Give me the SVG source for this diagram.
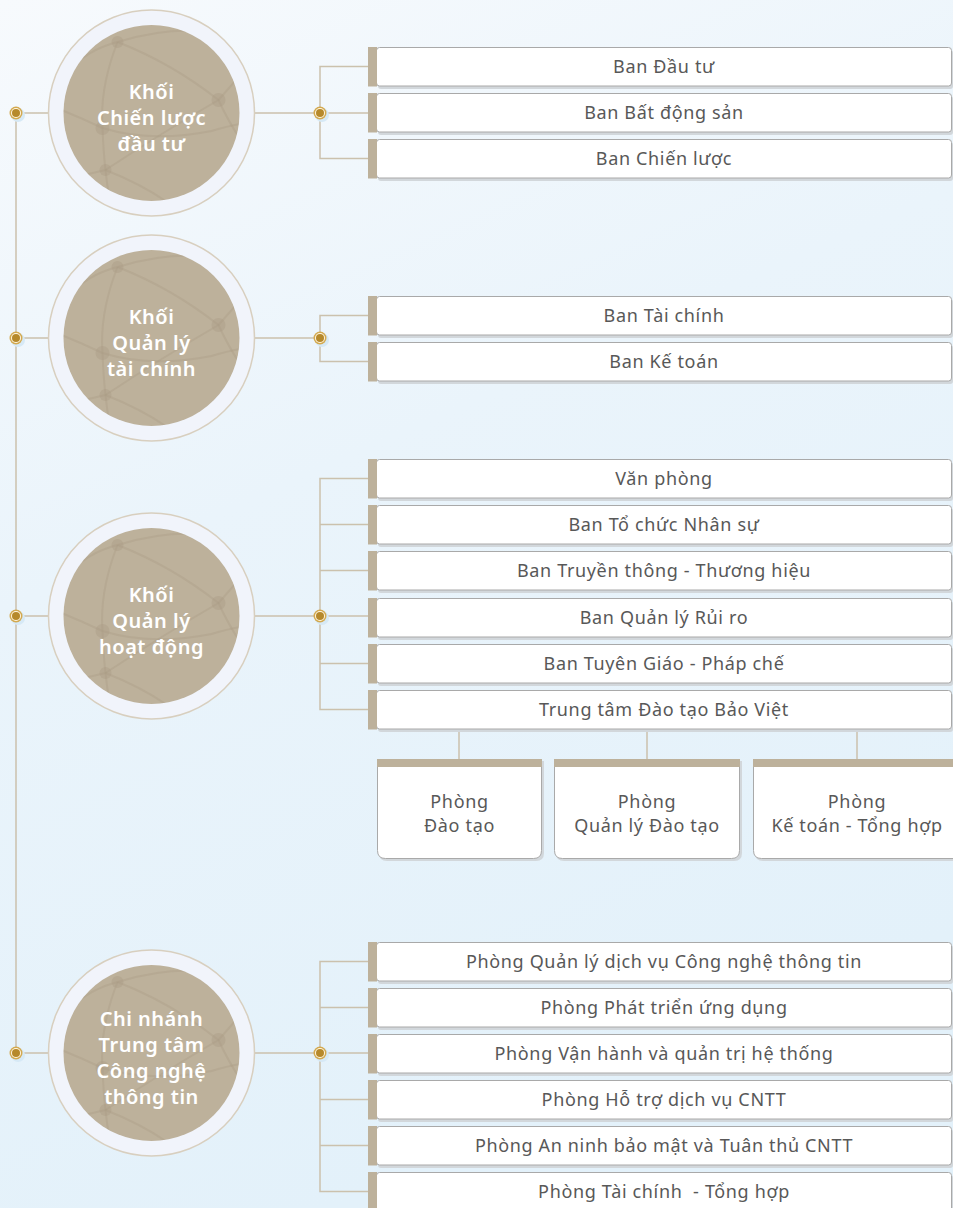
<svg xmlns="http://www.w3.org/2000/svg" xmlns:xlink="http://www.w3.org/1999/xlink" width="953" height="1208" viewBox="0 0 953 1208">
  <defs>
    <linearGradient id="bg" x1="0" y1="0" x2="0.35" y2="1">
      <stop offset="0" stop-color="#f7fafd"/>
      <stop offset="0.45" stop-color="#eaf4fb"/>
      <stop offset="1" stop-color="#e3f1fa"/>
    </linearGradient>
    <clipPath id="innerClip"><circle cx="0" cy="0" r="88"/></clipPath>
    <!-- globe / network texture drawn inside each unit disc -->
    <g id="globe" clip-path="url(#innerClip)" fill="none" stroke="#a99c84" stroke-width="2" stroke-opacity="0.35">
      <path d="M-95,-30 Q-70,-62 -34,-71 Q20,-88 70,-80"/>
      <path d="M-34,-71 Q-52,-25 -49,15 Q-48,40 -46,57 Q-44,80 -38,100"/>
      <path d="M-34,-71 Q20,-50 67,-13"/>
      <path d="M67,-13 L95,-45"/>
      <path d="M67,-13 Q80,15 92,30"/>
      <path d="M-95,-5 Q-70,5 -49,15 Q0,30 60,18 Q80,12 95,10"/>
      <path d="M-46,57 Q10,20 67,-13"/>
      <path d="M-95,70 Q-70,62 -46,57"/>
      <path d="M-46,57 Q0,75 30,100"/>
      <g fill="#a99c84" fill-opacity="0.4" stroke="none">
        <circle cx="-34" cy="-71" r="6"/>
        <circle cx="67" cy="-13" r="7"/>
        <circle cx="-49" cy="15" r="7"/>
        <circle cx="-46" cy="57" r="6"/>
      </g>
    </g>
    <g id="dot">
      <circle cx="2" cy="2" r="7" fill="#d6e9f6"/>
      <circle cx="0" cy="0" r="6.5" fill="#d3a94f"/>
      <circle cx="0" cy="0" r="5" fill="#fff6e2"/>
      <circle cx="0" cy="0" r="4" fill="#b6892b"/>
    </g>
    <style>
      .ln { fill: none; stroke: #cbc1ad; stroke-width: 1.5; }
      .ring { fill: #f1f4fb; stroke: #d8cfbf; stroke-width: 1.5; }
      .disc { fill: #bdb19b; }
      .ctext { font-family: "Noto Sans", "Inter", sans-serif; font-size: 20px; font-weight: 600; letter-spacing: 0.5px; fill: #ffffff; text-anchor: middle; }
      .bar { fill: #bdb19b; }
      .box { fill: #ffffff; stroke: #a9a9a9; stroke-width: 1; }
      .shadow { fill: #d2d7db; }
      .btext { font-family: "Noto Sans", "Inter", sans-serif; font-size: 18px; letter-spacing: 0.65px; fill: #585858; text-anchor: middle; }
    </style>
  </defs>

  <rect x="0" y="0" width="953" height="1208" fill="url(#bg)"/>

  <!-- connectors -->
  <g id="connectors">
    <line class="ln" x1="16" y1="113" x2="16" y2="1053"/>
    <!-- unit A -->
    <line class="ln" x1="16" y1="113" x2="48" y2="113"/>
    <line class="ln" x1="255" y1="113" x2="368" y2="113"/>
    <path class="ln" d="M368,66.5 H320 V158.5 H368"/>
    <!-- unit B -->
    <line class="ln" x1="16" y1="338" x2="48" y2="338"/>
    <line class="ln" x1="255" y1="338" x2="320" y2="338"/>
    <path class="ln" d="M368,315.5 H320 V361.5 H368"/>
    <!-- unit C -->
    <line class="ln" x1="16" y1="616" x2="48" y2="616"/>
    <line class="ln" x1="255" y1="616" x2="368" y2="616"/>
    <path class="ln" d="M368,478.5 H320 V709.5 H368"/>
    <line class="ln" x1="320" y1="524.5" x2="368" y2="524.5"/>
    <line class="ln" x1="320" y1="570.5" x2="368" y2="570.5"/>
    <line class="ln" x1="320" y1="663.5" x2="368" y2="663.5"/>
    <line class="ln" x1="459" y1="729" x2="459" y2="759"/>
    <line class="ln" x1="647" y1="729" x2="647" y2="759"/>
    <line class="ln" x1="857" y1="729" x2="857" y2="759"/>
    <!-- unit D -->
    <line class="ln" x1="16" y1="1053" x2="48" y2="1053"/>
    <line class="ln" x1="255" y1="1053" x2="368" y2="1053"/>
    <path class="ln" d="M368,961.5 H320 V1191.5 H368"/>
    <line class="ln" x1="320" y1="1007.5" x2="368" y2="1007.5"/>
    <line class="ln" x1="320" y1="1099.5" x2="368" y2="1099.5"/>
    <line class="ln" x1="320" y1="1145.5" x2="368" y2="1145.5"/>
    <!-- junction dots -->
    <use xlink:href="#dot" x="16" y="113"/>
    <use xlink:href="#dot" x="320" y="113"/>
    <use xlink:href="#dot" x="16" y="338"/>
    <use xlink:href="#dot" x="320" y="338"/>
    <use xlink:href="#dot" x="16" y="616"/>
    <use xlink:href="#dot" x="320" y="616"/>
    <use xlink:href="#dot" x="16" y="1053"/>
    <use xlink:href="#dot" x="320" y="1053"/>
  </g>

  <!-- unit circles -->
  <g id="unit-chien-luoc">
    <circle class="ring" cx="151.5" cy="113" r="103"/>
    <circle class="disc" cx="151.5" cy="113" r="88"/>
    <use xlink:href="#globe" x="151.5" y="113"/>
    <text class="ctext" x="151.5" y="99">Khối</text>
    <text class="ctext" x="151.5" y="125">Chiến lược</text>
    <text class="ctext" x="151.5" y="151">đầu tư</text>
  </g>
  <g id="unit-tai-chinh">
    <circle class="ring" cx="151.5" cy="338" r="103"/>
    <circle class="disc" cx="151.5" cy="338" r="88"/>
    <use xlink:href="#globe" x="151.5" y="338"/>
    <text class="ctext" x="151.5" y="324">Khối</text>
    <text class="ctext" x="151.5" y="350">Quản lý</text>
    <text class="ctext" x="151.5" y="376">tài chính</text>
  </g>
  <g id="unit-hoat-dong">
    <circle class="ring" cx="151.5" cy="616" r="103"/>
    <circle class="disc" cx="151.5" cy="616" r="88"/>
    <use xlink:href="#globe" x="151.5" y="616"/>
    <text class="ctext" x="151.5" y="602">Khối</text>
    <text class="ctext" x="151.5" y="628">Quản lý</text>
    <text class="ctext" x="151.5" y="654">hoạt động</text>
  </g>
  <g id="unit-cntt">
    <circle class="ring" cx="151.5" cy="1053" r="103"/>
    <circle class="disc" cx="151.5" cy="1053" r="88"/>
    <use xlink:href="#globe" x="151.5" y="1053"/>
    <text class="ctext" x="151.5" y="1026">Chi nhánh</text>
    <text class="ctext" x="151.5" y="1052">Trung tâm</text>
    <text class="ctext" x="151.5" y="1078">Công nghệ</text>
    <text class="ctext" x="151.5" y="1104">thông tin</text>
  </g>

  <!-- department boxes: bar at x=368, body 376..952, height 39 -->
  <g id="ban-dau-tu"><rect class="shadow" x="378" y="50" width="575" height="39" rx="3"/><rect class="box" x="376.5" y="47.5" width="575" height="38.5" rx="3"/><rect class="bar" x="368" y="47" width="9" height="39.5"/><text class="btext" x="664" y="73">Ban Đầu tư</text></g>
  <g id="ban-bat-dong-san"><rect class="shadow" x="378" y="96" width="575" height="39" rx="3"/><rect class="box" x="376.5" y="93.5" width="575" height="38.5" rx="3"/><rect class="bar" x="368" y="93" width="9" height="39.5"/><text class="btext" x="664" y="119">Ban Bất động sản</text></g>
  <g id="ban-chien-luoc"><rect class="shadow" x="378" y="142" width="575" height="39" rx="3"/><rect class="box" x="376.5" y="139.5" width="575" height="38.5" rx="3"/><rect class="bar" x="368" y="139" width="9" height="39.5"/><text class="btext" x="664" y="165">Ban Chiến lược</text></g>

  <g id="ban-tai-chinh"><rect class="shadow" x="378" y="299" width="575" height="39" rx="3"/><rect class="box" x="376.5" y="296.5" width="575" height="38.5" rx="3"/><rect class="bar" x="368" y="296" width="9" height="39.5"/><text class="btext" x="664" y="322">Ban Tài chính</text></g>
  <g id="ban-ke-toan"><rect class="shadow" x="378" y="345" width="575" height="39" rx="3"/><rect class="box" x="376.5" y="342.5" width="575" height="38.5" rx="3"/><rect class="bar" x="368" y="342" width="9" height="39.5"/><text class="btext" x="664" y="368">Ban Kế toán</text></g>

  <g id="van-phong"><rect class="shadow" x="378" y="462" width="575" height="39" rx="3"/><rect class="box" x="376.5" y="459.5" width="575" height="38.5" rx="3"/><rect class="bar" x="368" y="459" width="9" height="39.5"/><text class="btext" x="664" y="485">Văn phòng</text></g>
  <g id="ban-to-chuc"><rect class="shadow" x="378" y="508" width="575" height="39" rx="3"/><rect class="box" x="376.5" y="505.5" width="575" height="38.5" rx="3"/><rect class="bar" x="368" y="505" width="9" height="39.5"/><text class="btext" x="664" y="531">Ban Tổ chức Nhân sự</text></g>
  <g id="ban-truyen-thong"><rect class="shadow" x="378" y="554" width="575" height="39" rx="3"/><rect class="box" x="376.5" y="551.5" width="575" height="38.5" rx="3"/><rect class="bar" x="368" y="551" width="9" height="39.5"/><text class="btext" x="664" y="577">Ban Truyền thông - Thương hiệu</text></g>
  <g id="ban-rui-ro"><rect class="shadow" x="378" y="601" width="575" height="39" rx="3"/><rect class="box" x="376.5" y="598.5" width="575" height="38.5" rx="3"/><rect class="bar" x="368" y="598" width="9" height="39.5"/><text class="btext" x="664" y="624">Ban Quản lý Rủi ro</text></g>
  <g id="ban-tuyen-giao"><rect class="shadow" x="378" y="647" width="575" height="39" rx="3"/><rect class="box" x="376.5" y="644.5" width="575" height="38.5" rx="3"/><rect class="bar" x="368" y="644" width="9" height="39.5"/><text class="btext" x="664" y="670">Ban Tuyên Giáo - Pháp chế</text></g>
  <g id="trung-tam-dao-tao"><rect class="shadow" x="378" y="693" width="575" height="39" rx="3"/><rect class="box" x="376.5" y="690.5" width="575" height="38.5" rx="3"/><rect class="bar" x="368" y="690" width="9" height="39.5"/><text class="btext" x="664" y="716">Trung tâm Đào tạo Bảo Việt</text></g>

  <!-- training centre sub-units -->
  <g id="phong-dao-tao">
    <path d="M379,761 H544 V853 Q544,861 536,861 H387 Q379,861 379,853 Z" fill="#d2d7db"/>
    <path class="box" d="M377.5,759.5 H541.5 V850.5 Q541.5,858.5 533.5,858.5 H385.5 Q377.5,858.5 377.5,850.5 Z"/>
    <rect class="bar" x="377" y="759" width="165" height="8"/>
    <text class="btext" x="459.5" y="808">Phòng</text>
    <text class="btext" x="459.5" y="832">Đào tạo</text>
  </g>
  <g id="phong-quan-ly-dao-tao">
    <path d="M556,761 H742 V853 Q742,861 734,861 H564 Q556,861 556,853 Z" fill="#d2d7db"/>
    <path class="box" d="M554.5,759.5 H739.5 V850.5 Q739.5,858.5 731.5,858.5 H562.5 Q554.5,858.5 554.5,850.5 Z"/>
    <rect class="bar" x="554" y="759" width="186" height="8"/>
    <text class="btext" x="647" y="808">Phòng</text>
    <text class="btext" x="647" y="832">Quản lý Đào tạo</text>
  </g>
  <g id="phong-ke-toan-tong-hop">
    <path d="M755,761 H962 V861 H763 Q755,861 755,853 Z" fill="#d2d7db"/>
    <path class="box" d="M753.5,759.5 H960 V858.5 H761.5 Q753.5,858.5 753.5,850.5 Z"/>
    <rect class="bar" x="753" y="759" width="207" height="8"/>
    <text class="btext" x="857" y="808">Phòng</text>
    <text class="btext" x="857" y="832">Kế toán - Tổng hợp</text>
  </g>

  <g id="phong-quan-ly-dich-vu"><rect class="shadow" x="378" y="945" width="575" height="39" rx="3"/><rect class="box" x="376.5" y="942.5" width="575" height="38.5" rx="3"/><rect class="bar" x="368" y="942" width="9" height="39.5"/><text class="btext" x="664" y="968">Phòng Quản lý dịch vụ Công nghệ thông tin</text></g>
  <g id="phong-phat-trien"><rect class="shadow" x="378" y="991" width="575" height="39" rx="3"/><rect class="box" x="376.5" y="988.5" width="575" height="38.5" rx="3"/><rect class="bar" x="368" y="988" width="9" height="39.5"/><text class="btext" x="664" y="1014">Phòng Phát triển ứng dụng</text></g>
  <g id="phong-van-hanh"><rect class="shadow" x="378" y="1037" width="575" height="39" rx="3"/><rect class="box" x="376.5" y="1034.5" width="575" height="38.5" rx="3"/><rect class="bar" x="368" y="1034" width="9" height="39.5"/><text class="btext" x="664" y="1060">Phòng Vận hành và quản trị hệ thống</text></g>
  <g id="phong-ho-tro"><rect class="shadow" x="378" y="1083" width="575" height="39" rx="3"/><rect class="box" x="376.5" y="1080.5" width="575" height="38.5" rx="3"/><rect class="bar" x="368" y="1080" width="9" height="39.5"/><text class="btext" x="664" y="1106">Phòng Hỗ trợ dịch vụ CNTT</text></g>
  <g id="phong-an-ninh"><rect class="shadow" x="378" y="1129" width="575" height="39" rx="3"/><rect class="box" x="376.5" y="1126.5" width="575" height="38.5" rx="3"/><rect class="bar" x="368" y="1126" width="9" height="39.5"/><text class="btext" x="664" y="1152">Phòng An ninh bảo mật và Tuân thủ CNTT</text></g>
  <g id="phong-tai-chinh-tong-hop"><rect class="shadow" x="378" y="1175" width="575" height="39" rx="3"/><rect class="box" x="376.5" y="1172.5" width="575" height="38.5" rx="3"/><rect class="bar" x="368" y="1172" width="9" height="39.5"/><text class="btext" x="664" y="1198" xml:space="preserve">Phòng Tài chính  - Tổng hợp</text></g>
</svg>
